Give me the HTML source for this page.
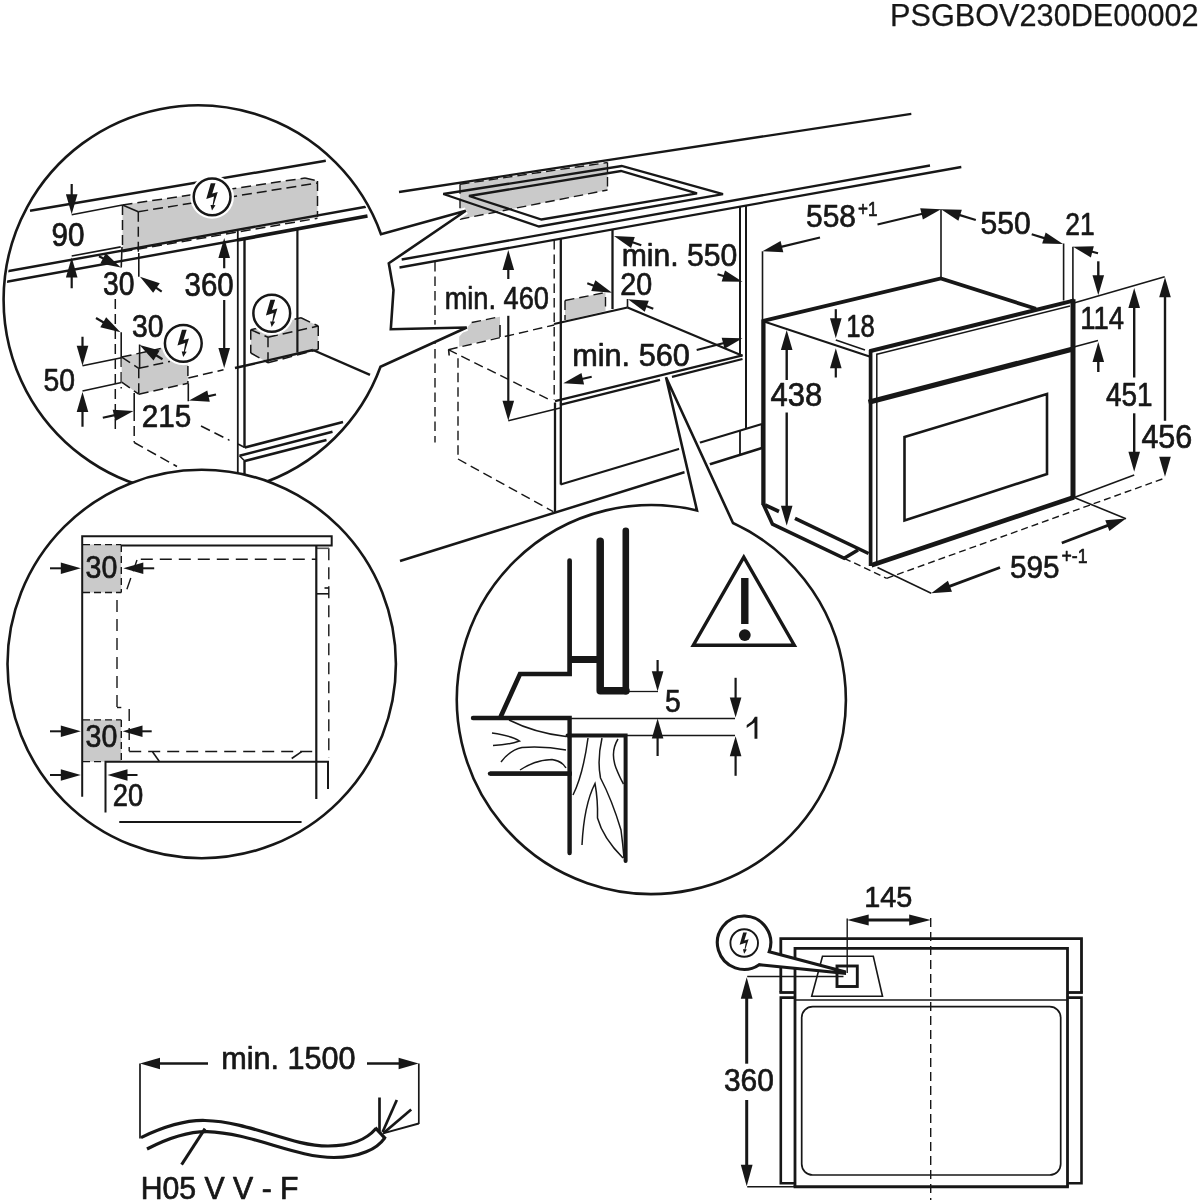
<!DOCTYPE html>
<html><head><meta charset="utf-8"><title>PSGBOV230DE00002</title>
<style>html,body{margin:0;padding:0;background:#fff}svg{display:block;filter:grayscale(1)}text{font-family:"Liberation Sans",sans-serif;fill:#171717;stroke:#171717;stroke-width:0.7px;stroke-linejoin:round}</style></head>
<body>
<svg width="1200" height="1200" viewBox="0 0 1200 1200">
<rect width="1200" height="1200" fill="#fff"/>
<g>
<g id="main">
<polygon points="460,184.2 607.5,162.5 607.5,190 460,219.2" fill="#c9cacc" stroke="none"/>
<line x1="399" y1="192" x2="911.3" y2="113.8" stroke="#171717" stroke-width="2.3"/>
<polygon points="443.3,194 621.7,166 723,194.2 539,226.5" fill="none" stroke="#171717" stroke-width="2.3"/>
<polygon points="469,196 621,171 697,193.3 541.5,219.5" fill="none" stroke="#171717" stroke-width="2.3"/>
<line x1="460" y1="184.2" x2="460" y2="219.2" stroke="#171717" stroke-width="1.4" stroke-dasharray="9.5 5"/>
<line x1="460" y1="219.2" x2="607.5" y2="190" stroke="#171717" stroke-width="1.4" stroke-dasharray="9.5 5"/>
<line x1="607.5" y1="162.5" x2="607.5" y2="190" stroke="#171717" stroke-width="1.4" stroke-dasharray="9.5 5"/>
<line x1="460" y1="184.2" x2="607.5" y2="162.5" stroke="#171717" stroke-width="1.4" stroke-dasharray="9.5 5"/>
<line x1="401.7" y1="259.5" x2="930" y2="165.5" stroke="#171717" stroke-width="2.3"/>
<line x1="399.5" y1="267.5" x2="961.3" y2="167" stroke="#171717" stroke-width="2.3"/>
<line x1="435" y1="262" x2="435" y2="442.5" stroke="#171717" stroke-width="1.4" stroke-dasharray="9.5 5"/>
<line x1="554.2" y1="240" x2="554.2" y2="400" stroke="#171717" stroke-width="1.4" stroke-dasharray="9.5 5"/>
<line x1="560.8" y1="238.6" x2="560.8" y2="484.5" stroke="#171717" stroke-width="2.3"/>
<line x1="612.5" y1="229.4" x2="612.5" y2="309" stroke="#171717" stroke-width="2.3"/>
<line x1="740" y1="206.6" x2="740" y2="355" stroke="#171717" stroke-width="2"/>
<line x1="746" y1="205.5" x2="746" y2="428" stroke="#171717" stroke-width="2"/>
<polygon points="471.7,322.5 500,316.7 500,336.7 459.2,346.7 459.2,336.7 466.7,328" fill="#c9cacc" stroke="none"/>
<line x1="471.7" y1="322.5" x2="500" y2="316.7" stroke="#171717" stroke-width="1.4" stroke-dasharray="9.5 5"/>
<line x1="500" y1="325" x2="500" y2="337" stroke="#171717" stroke-width="1.6"/>
<line x1="448.3" y1="349.7" x2="554.2" y2="325" stroke="#171717" stroke-width="1.4" stroke-dasharray="9.5 5"/>
<line x1="448.3" y1="349.7" x2="550" y2="400" stroke="#171717" stroke-width="1.4" stroke-dasharray="9.5 5"/>
<line x1="448.6" y1="349.7" x2="449.2" y2="355.5" stroke="#171717" stroke-width="1.6"/>
<line x1="458" y1="358.3" x2="458" y2="459" stroke="#171717" stroke-width="1.4" stroke-dasharray="9.5 5"/>
<line x1="458" y1="459" x2="553.3" y2="511.7" stroke="#171717" stroke-width="1.4" stroke-dasharray="9.5 5"/>
<polygon points="565,300.5 605.5,292.5 605.5,311 565,320.5" fill="#c9cacc" stroke="none"/>
<line x1="565" y1="300.5" x2="605.5" y2="292.5" stroke="#171717" stroke-width="1.4" stroke-dasharray="9.5 5"/>
<line x1="565" y1="300.5" x2="565" y2="320" stroke="#171717" stroke-width="1.4" stroke-dasharray="9.5 5"/>
<line x1="605.5" y1="297" x2="605.5" y2="311" stroke="#171717" stroke-width="1.4" stroke-dasharray="9.5 5"/>
<line x1="554" y1="324" x2="627.5" y2="307.5" stroke="#171717" stroke-width="2.3"/>
<line x1="627.5" y1="307.5" x2="742.5" y2="355.8" stroke="#171717" stroke-width="2.3"/>
<line x1="627.5" y1="299" x2="627.5" y2="307.5" stroke="#171717" stroke-width="1.6"/>
<line x1="555" y1="401.2" x2="742.5" y2="355.3" stroke="#171717" stroke-width="2.3"/>
<line x1="560" y1="404.8" x2="660" y2="379.8" stroke="#171717" stroke-width="2.3"/>
<line x1="672" y1="376.8" x2="742.5" y2="359" stroke="#171717" stroke-width="2.3"/>
<polygon points="508.3,250 514.1,270 502.5,270" fill="#171717" stroke="none"/>
<line x1="508.3" y1="279" x2="508.3" y2="268" stroke="#171717" stroke-width="2.2"/>
<polygon points="508.3,420.8 502.5,400.8 514.1,400.8" fill="#171717" stroke="none"/>
<line x1="508.3" y1="315.8" x2="508.3" y2="402.8" stroke="#171717" stroke-width="2.2"/>
<text x="444.7" y="309.3" font-size="31.24" textLength="104.21" lengthAdjust="spacingAndGlyphs">min. 460</text>
<line x1="508.3" y1="420.8" x2="560" y2="408" stroke="#171717" stroke-width="1.6"/>
<text x="621.7" y="266.4" font-size="31.24" textLength="115.61" lengthAdjust="spacingAndGlyphs">min. 550</text>
<polygon points="614,236 634.8,236.96 631.06,247.94" fill="#171717" stroke="none"/>
<line x1="641.3" y1="245.3" x2="631.04" y2="241.8" stroke="#171717" stroke-width="2.2"/>
<polygon points="742.5,281.7 721.68,281.51 725.01,270.4" fill="#171717" stroke="none"/>
<line x1="717.5" y1="274.2" x2="725.26" y2="276.53" stroke="#171717" stroke-width="2.2"/>
<text x="620.2" y="295" font-size="30.78" textLength="31.91" lengthAdjust="spacingAndGlyphs">20</text>
<polygon points="612,292.7 591.24,291.01 595.37,280.17" fill="#171717" stroke="none"/>
<line x1="587.3" y1="283.3" x2="595.18" y2="286.3" stroke="#171717" stroke-width="2.2"/>
<polygon points="628,299.3 648.77,300.83 644.73,311.7" fill="#171717" stroke="none"/>
<line x1="653.3" y1="308.7" x2="644.87" y2="305.57" stroke="#171717" stroke-width="2.2"/>
<text x="572.2" y="365.9" font-size="31.24" textLength="117.61" lengthAdjust="spacingAndGlyphs">min. 560</text>
<polygon points="563.3,383.3 581.47,373.12 584.09,384.42" fill="#171717" stroke="none"/>
<line x1="591.7" y1="376.7" x2="580.83" y2="379.23" stroke="#171717" stroke-width="2.2"/>
<polygon points="742.5,338.3 724.56,348.87 721.69,337.63" fill="#171717" stroke="none"/>
<line x1="696.7" y1="350" x2="725.06" y2="342.76" stroke="#171717" stroke-width="2.2"/>
<line x1="555" y1="402.5" x2="555" y2="512.5" stroke="#171717" stroke-width="2.3"/>
<line x1="560.5" y1="484.5" x2="762" y2="424" stroke="#171717" stroke-width="2.3"/>
<line x1="400" y1="561" x2="762" y2="448" stroke="#171717" stroke-width="2.5"/>
<line x1="740" y1="431" x2="740" y2="454.5" stroke="#171717" stroke-width="1.8"/>
<line x1="761.7" y1="424.5" x2="761.7" y2="448" stroke="#171717" stroke-width="1.8"/>
</g>
<g id="oven">
<line x1="762.5" y1="251.3" x2="762.5" y2="320" stroke="#171717" stroke-width="1.6"/>
<line x1="941" y1="209.3" x2="941" y2="278.5" stroke="#171717" stroke-width="1.6"/>
<line x1="1063.6" y1="243.5" x2="1063.6" y2="300.5" stroke="#171717" stroke-width="1.6"/>
<line x1="1072.9" y1="246.7" x2="1072.9" y2="302" stroke="#171717" stroke-width="1.6"/>
<polyline points="763.3,320.8 940.8,278.5 1036,308.8" fill="none" stroke="#171717" stroke-width="3.8"/>
<line x1="764" y1="321.5" x2="869.5" y2="356.5" stroke="#171717" stroke-width="2"/>
<line x1="763.4" y1="319.5" x2="763.4" y2="505" stroke="#171717" stroke-width="4.3"/>
<line x1="869.5" y1="351.2" x2="1074.5" y2="300.4" stroke="#171717" stroke-width="4"/>
<line x1="877" y1="354.3" x2="1070" y2="306" stroke="#171717" stroke-width="1.6"/>
<line x1="870.6" y1="350" x2="870.6" y2="566" stroke="#171717" stroke-width="3.7"/>
<line x1="876.8" y1="353.5" x2="876.8" y2="563.5" stroke="#171717" stroke-width="1.5"/>
<line x1="868.5" y1="402.2" x2="1073" y2="349" stroke="#171717" stroke-width="5.2"/>
<line x1="1073" y1="299.2" x2="1073" y2="498.5" stroke="#171717" stroke-width="5"/>
<line x1="871.5" y1="565.3" x2="1074" y2="497.2" stroke="#171717" stroke-width="4.6"/>
<polygon points="904.5,437 1047,394 1047,474 904.5,520.5" fill="none" stroke="#171717" stroke-width="2.6"/>
<polyline points="763.3,504.2 772.5,524.2 844.2,558.3 858,550" fill="none" stroke="#171717" stroke-width="3.6"/>
<line x1="765" y1="505" x2="779" y2="511.5" stroke="#171717" stroke-width="3.6"/>
<line x1="795" y1="518.3" x2="868.6" y2="553.5" stroke="#171717" stroke-width="3.6"/>
<text x="806" y="226.8" font-size="31.14" textLength="50.01" lengthAdjust="spacingAndGlyphs">558</text>
<text x="858" y="216.3" font-size="20.14" textLength="19.5" lengthAdjust="spacingAndGlyphs">+1</text>
<polygon points="762.5,251.3 780.59,240.99 783.3,252.27" fill="#171717" stroke="none"/>
<line x1="820" y1="237.5" x2="780" y2="247.1" stroke="#171717" stroke-width="2.2"/>
<polygon points="941,209.3 922.9,219.6 920.2,208.32" fill="#171717" stroke="none"/>
<line x1="877.5" y1="224.5" x2="923.49" y2="213.49" stroke="#171717" stroke-width="2.2"/>
<text x="980.5" y="233.8" font-size="31.85" textLength="50.11" lengthAdjust="spacingAndGlyphs">550</text>
<polygon points="941,209.3 961.82,209.63 958.41,220.72" fill="#171717" stroke="none"/>
<line x1="975.8" y1="220" x2="958.21" y2="214.59" stroke="#171717" stroke-width="2.2"/>
<polygon points="1063,244 1042.18,243.56 1045.65,232.49" fill="#171717" stroke="none"/>
<line x1="1031.7" y1="234.2" x2="1045.82" y2="238.62" stroke="#171717" stroke-width="2.2"/>
<text x="1065.2" y="235.4" font-size="31.7" textLength="29.41" lengthAdjust="spacingAndGlyphs">21</text>
<polygon points="1073,246.7 1093.82,246.2 1090.86,257.41" fill="#171717" stroke="none"/>
<line x1="1098" y1="253.3" x2="1090.4" y2="251.29" stroke="#171717" stroke-width="2.2"/>
<polygon points="835.8,338.3 830,318.3 841.6,318.3" fill="#171717" stroke="none"/>
<line x1="835.8" y1="309.2" x2="835.8" y2="320.3" stroke="#171717" stroke-width="2.2"/>
<polygon points="835.8,348.3 841.6,368.3 830,368.3" fill="#171717" stroke="none"/>
<line x1="835.8" y1="377.5" x2="835.8" y2="366.3" stroke="#171717" stroke-width="2.2"/>
<line x1="835.8" y1="340" x2="865" y2="350" stroke="#171717" stroke-width="1.6"/>
<text x="846.2" y="337.1" font-size="31.7" textLength="28.61" lengthAdjust="spacingAndGlyphs">18</text>
<polygon points="786.7,330 792.5,350 780.9,350" fill="#171717" stroke="none"/>
<line x1="786.7" y1="380" x2="786.7" y2="348" stroke="#171717" stroke-width="2.4"/>
<text x="770.5" y="405.9" font-size="33.68" textLength="51.81" lengthAdjust="spacingAndGlyphs">438</text>
<polygon points="786.7,525.8 780.9,505.8 792.5,505.8" fill="#171717" stroke="none"/>
<line x1="786.7" y1="412.5" x2="786.7" y2="507.8" stroke="#171717" stroke-width="2.4"/>
<line x1="1074.7" y1="302.7" x2="1164.7" y2="276.7" stroke="#171717" stroke-width="1.6"/>
<line x1="1074.7" y1="346.7" x2="1098" y2="340.5" stroke="#171717" stroke-width="1.6"/>
<polygon points="1098.3,295.3 1092.5,275.3 1104.1,275.3" fill="#171717" stroke="none"/>
<line x1="1098.3" y1="261.3" x2="1098.3" y2="277.3" stroke="#171717" stroke-width="2.4"/>
<polygon points="1098.3,342 1104.1,362 1092.5,362" fill="#171717" stroke="none"/>
<line x1="1098.3" y1="372" x2="1098.3" y2="360" stroke="#171717" stroke-width="2.4"/>
<text x="1080.2" y="328.9" font-size="31.39" textLength="43.71" lengthAdjust="spacingAndGlyphs">114</text>
<polygon points="1134.2,288 1140,308 1128.4,308" fill="#171717" stroke="none"/>
<line x1="1134.2" y1="377.5" x2="1134.2" y2="306" stroke="#171717" stroke-width="2.4"/>
<text x="1106" y="406.2" font-size="32.92" textLength="46.61" lengthAdjust="spacingAndGlyphs">451</text>
<polygon points="1134.2,471.7 1128.4,451.7 1140,451.7" fill="#171717" stroke="none"/>
<line x1="1134.2" y1="413.3" x2="1134.2" y2="453.7" stroke="#171717" stroke-width="2.4"/>
<polygon points="1165,277.3 1170.8,297.3 1159.2,297.3" fill="#171717" stroke="none"/>
<line x1="1165" y1="420.8" x2="1165" y2="295.3" stroke="#171717" stroke-width="2.4"/>
<text x="1141.4" y="447.6" font-size="32.46" textLength="50.91" lengthAdjust="spacingAndGlyphs">456</text>
<polygon points="1165,476.7 1159.2,456.7 1170.8,456.7" fill="#171717" stroke="none"/>
<line x1="1074.2" y1="497.5" x2="1134.2" y2="475" stroke="#171717" stroke-width="1.6"/>
<line x1="844.2" y1="558.3" x2="886.7" y2="578.3" stroke="#171717" stroke-width="1.4" stroke-dasharray="7 4"/>
<line x1="886.7" y1="578.3" x2="1164.2" y2="478.3" stroke="#171717" stroke-width="1.4" stroke-dasharray="7 4"/>
<line x1="877.5" y1="567.5" x2="931.2" y2="593.2" stroke="#171717" stroke-width="1.6"/>
<line x1="1074.2" y1="497.5" x2="1126" y2="518.8" stroke="#171717" stroke-width="1.6"/>
<polygon points="931.2,593.2 947.91,580.77 951.97,591.63" fill="#171717" stroke="none"/>
<line x1="1000" y1="567.5" x2="948.06" y2="586.9" stroke="#171717" stroke-width="2.8"/>
<polygon points="1126,518.5 1109.38,531.05 1105.25,520.21" fill="#171717" stroke="none"/>
<line x1="1061.8" y1="543" x2="1109.18" y2="524.92" stroke="#171717" stroke-width="2.8"/>
<text x="1010" y="578.4" font-size="31.57" textLength="49.51" lengthAdjust="spacingAndGlyphs">595</text>
<text x="1061.5" y="563" font-size="20.43" textLength="26" lengthAdjust="spacingAndGlyphs">+-1</text>
</g>
<g id="c1">
<path d="M 430 341 L 466.7 327.5 L 430 328.3 M 430 220.5 L 465.8 210.8 L 430 235.2" fill="none" stroke="#fff" stroke-width="7"/>
<path d="M 381 234.21 A 194.4 194.4 0 1 0 380.5 366.77 L 466.7 327.5 L 390.8 329.2 L 393.5 290 L 388.8 263.3 L 465.8 210.8 Z" fill="#fff" stroke="#171717" stroke-width="2.6"/>
<clipPath id="cp1"><circle cx="198" cy="299.8" r="191.8"/></clipPath>
<g clip-path="url(#cp1)">
<polygon points="122.5,205 305,178 317.5,181 317.5,217.5 122.5,251.5" fill="#c9cacc" stroke="none"/>
<line x1="30" y1="210.8" x2="325.8" y2="160.8" stroke="#171717" stroke-width="2.5"/>
<line x1="7.5" y1="271.3" x2="366" y2="206.7" stroke="#171717" stroke-width="2.4"/>
<line x1="6.7" y1="281.7" x2="237.5" y2="240" stroke="#171717" stroke-width="2.4"/>
<line x1="237.5" y1="240" x2="367.5" y2="216" stroke="#171717" stroke-width="3.6"/>
<line x1="122.5" y1="205" x2="305" y2="178" stroke="#171717" stroke-width="1.5" stroke-dasharray="10 5"/>
<line x1="305" y1="178" x2="317.5" y2="181" stroke="#171717" stroke-width="1.5" stroke-dasharray="10 5"/>
<line x1="138.3" y1="211.7" x2="317.5" y2="183" stroke="#171717" stroke-width="1.5" stroke-dasharray="10 5"/>
<line x1="122.5" y1="205" x2="122.5" y2="251" stroke="#171717" stroke-width="1.5" stroke-dasharray="10 5"/>
<line x1="138.3" y1="211.7" x2="138.3" y2="253" stroke="#171717" stroke-width="1.5" stroke-dasharray="10 5"/>
<line x1="122.5" y1="205" x2="138.3" y2="211.7" stroke="#171717" stroke-width="1.6"/>
<line x1="317.5" y1="181" x2="317.5" y2="217" stroke="#171717" stroke-width="1.5" stroke-dasharray="10 5"/>
<line x1="122.5" y1="251.8" x2="317.5" y2="218.3" stroke="#171717" stroke-width="1.5" stroke-dasharray="10 5"/>
<polygon points="71.7,214.2 65.9,194.2 77.5,194.2" fill="#171717" stroke="none"/>
<line x1="71.7" y1="184" x2="71.7" y2="196.2" stroke="#171717" stroke-width="2.2"/>
<line x1="71.7" y1="214.7" x2="122.5" y2="205" stroke="#171717" stroke-width="1.6"/>
<polygon points="71.7,257.5 77.5,277.5 65.9,277.5" fill="#171717" stroke="none"/>
<line x1="71.7" y1="288.3" x2="71.7" y2="275.5" stroke="#171717" stroke-width="2.2"/>
<line x1="71.7" y1="256" x2="120.8" y2="246.9" stroke="#171717" stroke-width="1.6"/>
<text x="51.5" y="246" font-size="32.47" textLength="33.01" lengthAdjust="spacingAndGlyphs">90</text>
<line x1="138.8" y1="253" x2="138.8" y2="276.7" stroke="#171717" stroke-width="1.6"/>
<line x1="122" y1="247" x2="121.2" y2="267.5" stroke="#171717" stroke-width="1.6"/>
<polygon points="120.8,267.5 100.37,263.45 105.71,253.15" fill="#171717" stroke="none"/>
<line x1="99" y1="256.2" x2="104.82" y2="259.22" stroke="#171717" stroke-width="2.2"/>
<polygon points="140,276.7 159.75,283.3 153.15,292.84" fill="#171717" stroke="none"/>
<line x1="161.7" y1="291.7" x2="154.81" y2="286.94" stroke="#171717" stroke-width="2.2"/>
<text x="103" y="294.5" font-size="32.47" textLength="31.51" lengthAdjust="spacingAndGlyphs">30</text>
<polygon points="224.2,238 230,258 218.4,258" fill="#171717" stroke="none"/>
<line x1="224.2" y1="268.3" x2="224.2" y2="256" stroke="#171717" stroke-width="2.2"/>
<text x="184.5" y="295.5" font-size="32.47" textLength="49.21" lengthAdjust="spacingAndGlyphs">360</text>
<polygon points="224.2,368 218.4,348 230,348" fill="#171717" stroke="none"/>
<line x1="224.2" y1="300" x2="224.2" y2="350" stroke="#171717" stroke-width="2.2"/>
<line x1="237.8" y1="231" x2="237.8" y2="500" stroke="#171717" stroke-width="1.8"/>
<line x1="244.5" y1="238.5" x2="244.5" y2="447.5" stroke="#171717" stroke-width="2.4"/>
<line x1="244.5" y1="461" x2="244.5" y2="500" stroke="#171717" stroke-width="2.4"/>
<line x1="115.3" y1="299" x2="115.3" y2="433" stroke="#171717" stroke-width="1.5" stroke-dasharray="10 5"/>
<line x1="121.2" y1="332.3" x2="121.2" y2="357" stroke="#171717" stroke-width="1.6"/>
<line x1="121.2" y1="357" x2="121.2" y2="388.5" stroke="#171717" stroke-width="1.5" stroke-dasharray="10 5"/>
<polygon points="120.5,332.3 100.3,327.23 106.15,317.21" fill="#171717" stroke="none"/>
<line x1="96" y1="318" x2="104.95" y2="323.23" stroke="#171717" stroke-width="2.2"/>
<text x="132" y="337.3" font-size="31.46" textLength="31.51" lengthAdjust="spacingAndGlyphs">30</text>
<polygon points="121.7,357.1 187.9,342.6 187.9,383.3 138.75,394.2 121.7,382.1" fill="#c9cacc" stroke="none"/>
<line x1="121.7" y1="357.1" x2="162" y2="348.2" stroke="#171717" stroke-width="1.5" stroke-dasharray="10 5"/>
<line x1="121.7" y1="357.1" x2="138.75" y2="368.3" stroke="#171717" stroke-width="1.5" stroke-dasharray="10 5"/>
<line x1="138.75" y1="368.3" x2="170" y2="361.4" stroke="#171717" stroke-width="1.5" stroke-dasharray="10 5"/>
<line x1="138.75" y1="368.3" x2="138.75" y2="394.2" stroke="#171717" stroke-width="1.5" stroke-dasharray="10 5"/>
<line x1="138.75" y1="394.2" x2="187.9" y2="383.3" stroke="#171717" stroke-width="1.5" stroke-dasharray="10 5"/>
<line x1="187.9" y1="366" x2="187.9" y2="383.3" stroke="#171717" stroke-width="1.5" stroke-dasharray="10 5"/>
<line x1="121.7" y1="382.1" x2="138.75" y2="394.2" stroke="#171717" stroke-width="1.5" stroke-dasharray="10 5"/>
<line x1="139.6" y1="344.6" x2="139.6" y2="368.3" stroke="#171717" stroke-width="1.6"/>
<polygon points="139.6,345 159.65,350.61 153.54,360.47" fill="#171717" stroke="none"/>
<line x1="162.5" y1="359.2" x2="154.9" y2="354.49" stroke="#171717" stroke-width="2.2"/>
<line x1="82.5" y1="365.7" x2="121.5" y2="357.8" stroke="#171717" stroke-width="1.6"/>
<line x1="82.5" y1="391" x2="121.5" y2="382.5" stroke="#171717" stroke-width="1.6"/>
<polygon points="82.5,365.7 76.7,345.7 88.3,345.7" fill="#171717" stroke="none"/>
<line x1="82.5" y1="336.8" x2="82.5" y2="347.7" stroke="#171717" stroke-width="2.2"/>
<polygon points="82.5,392 88.3,412 76.7,412" fill="#171717" stroke="none"/>
<line x1="82.5" y1="426.8" x2="82.5" y2="410" stroke="#171717" stroke-width="2.2"/>
<text x="43.5" y="391.3" font-size="31.46" textLength="31.51" lengthAdjust="spacingAndGlyphs">50</text>
<line x1="134.2" y1="393" x2="134.2" y2="411" stroke="#171717" stroke-width="1.6"/>
<line x1="134.2" y1="411" x2="134.2" y2="442.5" stroke="#171717" stroke-width="1.5" stroke-dasharray="10 5"/>
<line x1="134.2" y1="442.5" x2="177" y2="466.5" stroke="#171717" stroke-width="1.5" stroke-dasharray="10 5"/>
<polygon points="133.5,411 115.23,420.99 112.72,409.66" fill="#171717" stroke="none"/>
<line x1="102.8" y1="417.8" x2="115.93" y2="414.89" stroke="#171717" stroke-width="2.2"/>
<line x1="188.3" y1="383.3" x2="188.3" y2="401.3" stroke="#171717" stroke-width="1.6"/>
<polygon points="189,400.5 207.27,390.5 209.78,401.82" fill="#171717" stroke="none"/>
<line x1="216" y1="394.5" x2="206.57" y2="396.6" stroke="#171717" stroke-width="2.2"/>
<text x="141.8" y="426.5" font-size="31.31" textLength="49.51" lengthAdjust="spacingAndGlyphs">215</text>
<line x1="201" y1="426" x2="229.5" y2="440.3" stroke="#171717" stroke-width="1.5" stroke-dasharray="10 5"/>
<line x1="188.3" y1="378" x2="223.5" y2="369.8" stroke="#171717" stroke-width="1.5" stroke-dasharray="10 5"/>
<polygon points="250.75,329.75 301,317.75 318.25,326 318.25,349.5 268,362.75 250.75,353" fill="#c9cacc" stroke="none"/>
<line x1="250.75" y1="329.75" x2="301" y2="317.75" stroke="#171717" stroke-width="1.5" stroke-dasharray="10 5"/>
<line x1="301" y1="317.75" x2="318.25" y2="326" stroke="#171717" stroke-width="1.5" stroke-dasharray="10 5"/>
<line x1="268" y1="337.25" x2="318.25" y2="326" stroke="#171717" stroke-width="1.5" stroke-dasharray="10 5"/>
<line x1="250.75" y1="329.75" x2="268" y2="337.25" stroke="#171717" stroke-width="1.5" stroke-dasharray="10 5"/>
<line x1="250.75" y1="329.75" x2="250.75" y2="353" stroke="#171717" stroke-width="1.5" stroke-dasharray="10 5"/>
<line x1="268" y1="337.25" x2="268" y2="362.75" stroke="#171717" stroke-width="1.5" stroke-dasharray="10 5"/>
<line x1="318.25" y1="326" x2="318.25" y2="349.5" stroke="#171717" stroke-width="1.5" stroke-dasharray="10 5"/>
<line x1="250.75" y1="353" x2="268" y2="362.75" stroke="#171717" stroke-width="1.5" stroke-dasharray="10 5"/>
<line x1="268" y1="362.75" x2="318.25" y2="349.5" stroke="#171717" stroke-width="1.5" stroke-dasharray="10 5"/>
<line x1="297.4" y1="229" x2="297.4" y2="352.5" stroke="#171717" stroke-width="2.2"/>
<line x1="235" y1="368" x2="313" y2="350" stroke="#171717" stroke-width="2.4"/>
<line x1="313" y1="350" x2="370" y2="374.8" stroke="#171717" stroke-width="2.4"/>
<line x1="244.75" y1="447.5" x2="343" y2="422" stroke="#171717" stroke-width="2.6"/>
<line x1="239.5" y1="455.75" x2="332.5" y2="431.75" stroke="#171717" stroke-width="2.6"/>
<line x1="244.75" y1="461" x2="326.5" y2="440" stroke="#171717" stroke-width="2.6"/>
<line x1="238" y1="444" x2="244.75" y2="447.5" stroke="#171717" stroke-width="1.5"/>
<line x1="239.5" y1="455.75" x2="244.75" y2="461" stroke="#171717" stroke-width="1.5"/>
<circle cx="212.1" cy="196.85" r="21.85" fill="#fff"/>
<circle cx="212.1" cy="196.85" r="18.4" fill="#fff" stroke="#171717" stroke-width="2.5"/>
<polygon points="210.75,183.25 215.5,183.25 212.25,193.5 217.75,192 213.65,205 215.5,205.25 212,210.5 210.5,205 212.6,205 214,196.5 206.25,199" fill="#171717" stroke="none"/>
<circle cx="183.3" cy="343.3" r="21.85" fill="#fff"/>
<circle cx="183.3" cy="343.3" r="18.4" fill="#fff" stroke="#171717" stroke-width="2.5"/>
<polygon points="181.95,329.7 186.7,329.7 183.45,339.95 188.95,338.45 184.85,351.45 186.7,351.7 183.2,356.95 181.7,351.45 183.8,351.45 185.2,342.95 177.45,345.45" fill="#171717" stroke="none"/>
<circle cx="271.75" cy="313.25" r="21.85" fill="#fff"/>
<circle cx="271.75" cy="313.25" r="18.4" fill="#fff" stroke="#171717" stroke-width="2.5"/>
<polygon points="270.4,299.65 275.15,299.65 271.9,309.9 277.4,308.4 273.3,321.4 275.15,321.65 271.65,326.9 270.15,321.4 272.25,321.4 273.65,312.9 265.9,315.4" fill="#171717" stroke="none"/>
</g>
</g>
<g id="c2">
<circle cx="201.7" cy="664" r="194.2" fill="#fff" stroke="#171717" stroke-width="2.6"/>
<rect x="82.2" y="544.5" width="39.1" height="48" fill="#c9cacc"/>
<rect x="82.2" y="719.7" width="39.1" height="42" fill="#c9cacc"/>
<polyline points="121.3,545.4 331.7,545.4 331.7,536.2 82.2,536.2 82.2,796.7" fill="none" stroke="#171717" stroke-width="2"/>
<line x1="83" y1="544.6" x2="121.3" y2="544.6" stroke="#171717" stroke-width="1.4" stroke-dasharray="7 4"/>
<line x1="121.3" y1="545" x2="121.3" y2="592.5" stroke="#171717" stroke-width="1.4" stroke-dasharray="7 4"/>
<line x1="83" y1="592.5" x2="121.3" y2="592.5" stroke="#171717" stroke-width="1.4" stroke-dasharray="7 4"/>
<line x1="83" y1="719.9" x2="121.3" y2="719.9" stroke="#171717" stroke-width="1.4" stroke-dasharray="7 4"/>
<line x1="121.3" y1="720" x2="121.3" y2="761" stroke="#171717" stroke-width="1.4" stroke-dasharray="7 4"/>
<line x1="83" y1="761.6" x2="105" y2="761.6" stroke="#171717" stroke-width="1.4" stroke-dasharray="7 4"/>
<text x="85.5" y="577.6" font-size="31.24" textLength="31.81" lengthAdjust="spacingAndGlyphs">30</text>
<polygon points="80.8,568.3 60.8,574.1 60.8,562.5" fill="#171717" stroke="none"/>
<line x1="50" y1="568.3" x2="62.8" y2="568.3" stroke="#171717" stroke-width="2"/>
<polygon points="123.3,568.3 143.3,562.5 143.3,574.1" fill="#171717" stroke="none"/>
<line x1="154.2" y1="568.3" x2="141.3" y2="568.3" stroke="#171717" stroke-width="2"/>
<line x1="140.8" y1="559.2" x2="316" y2="559.2" stroke="#171717" stroke-width="1.4" stroke-dasharray="12 7"/>
<line x1="137" y1="560" x2="125.8" y2="592.5" stroke="#171717" stroke-width="1.4" stroke-dasharray="12 7"/>
<line x1="117" y1="600" x2="117" y2="707.5" stroke="#171717" stroke-width="1.4" stroke-dasharray="12 7"/>
<line x1="117" y1="707.5" x2="121.3" y2="707.5" stroke="#171717" stroke-width="1.4"/>
<line x1="129.2" y1="709" x2="129.2" y2="751.3" stroke="#171717" stroke-width="1.4" stroke-dasharray="12 7"/>
<line x1="129.2" y1="751.5" x2="316.7" y2="751.5" stroke="#171717" stroke-width="1.4" stroke-dasharray="12 7"/>
<line x1="328.8" y1="548.3" x2="328.8" y2="757.5" stroke="#171717" stroke-width="1.4" stroke-dasharray="12 7"/>
<line x1="317" y1="548.3" x2="329" y2="548.3" stroke="#555" stroke-width="1.6"/>
<line x1="316.3" y1="593.8" x2="329" y2="593.8" stroke="#171717" stroke-width="1.6"/>
<line x1="324.5" y1="588" x2="328.8" y2="588" stroke="#171717" stroke-width="1.6"/>
<line x1="316.3" y1="545.4" x2="316.3" y2="799" stroke="#171717" stroke-width="2.2"/>
<text x="85.5" y="746.8" font-size="31.24" textLength="31.81" lengthAdjust="spacingAndGlyphs">30</text>
<polygon points="80.8,731.3 60.8,737.1 60.8,725.5" fill="#171717" stroke="none"/>
<line x1="50" y1="731.3" x2="62.8" y2="731.3" stroke="#171717" stroke-width="2"/>
<polygon points="122.5,731.3 142.5,725.5 142.5,737.1" fill="#171717" stroke="none"/>
<line x1="151.7" y1="731.3" x2="140.5" y2="731.3" stroke="#171717" stroke-width="2"/>
<polyline points="105.5,812.5 105.5,761.7 328,761.7 328,789" fill="none" stroke="#171717" stroke-width="2"/>
<line x1="152.5" y1="751.7" x2="159.2" y2="761.2" stroke="#171717" stroke-width="1.6"/>
<line x1="301.7" y1="751.7" x2="291.7" y2="758.5" stroke="#171717" stroke-width="1.6"/>
<polygon points="80.8,775 60.8,780.8 60.8,769.2" fill="#171717" stroke="none"/>
<line x1="50" y1="775" x2="62.8" y2="775" stroke="#171717" stroke-width="2"/>
<polygon points="107.5,775 127.5,769.2 127.5,780.8" fill="#171717" stroke="none"/>
<line x1="137.5" y1="775" x2="125.5" y2="775" stroke="#171717" stroke-width="2"/>
<text x="112.7" y="805.9" font-size="31.24" textLength="30.41" lengthAdjust="spacingAndGlyphs">20</text>
<line x1="120" y1="822" x2="300.8" y2="822" stroke="#171717" stroke-width="2" stroke-linecap="round"/>
</g>
<g id="c3">
<path d="M 733 522.99 L 666 377.3 L 697 510.45" fill="none" stroke="#fff" stroke-width="7"/>
<path d="M 733 522.99 A 194.5 194.5 0 1 1 697 510.45 L 666 377.3 Z" fill="#fff" stroke="#171717" stroke-width="2.6"/>
<polyline points="600.2,541.2 600.2,690.8 626,690.8" fill="none" stroke="#171717" stroke-width="7.5" stroke-linejoin="round" stroke-linecap="round"/>
<line x1="625.8" y1="530.8" x2="625.8" y2="691.2" stroke="#171717" stroke-width="6.6" stroke-linecap="round"/>
<polyline points="569.6,560.5 569.6,674 520,674 501,716" fill="none" stroke="#171717" stroke-width="4.7" stroke-linecap="round"/>
<line x1="568" y1="659.5" x2="600" y2="659.5" stroke="#171717" stroke-width="7"/>
<polyline points="473,718 569.6,718 569.6,853" fill="none" stroke="#171717" stroke-width="4.4" stroke-linecap="round"/>
<line x1="490" y1="773.6" x2="569.6" y2="773.6" stroke="#171717" stroke-width="4.4" stroke-linecap="round"/>
<line x1="490" y1="773.6" x2="571.8" y2="773.6" stroke="#171717" stroke-width="4.4"/>
<polyline points="567.5,735.6 625.6,735.6 625.6,861" fill="none" stroke="#171717" stroke-width="4" stroke-linecap="round"/>
<line x1="628" y1="691.5" x2="658" y2="691.5" stroke="#171717" stroke-width="1.3"/>
<line x1="569.6" y1="718.5" x2="735" y2="718.5" stroke="#171717" stroke-width="1.3"/>
<line x1="626" y1="735.5" x2="735" y2="735.5" stroke="#171717" stroke-width="1.3"/>
<polygon points="657.6,691.3 651.8,671.3 663.4,671.3" fill="#171717" stroke="none"/>
<line x1="657.6" y1="660" x2="657.6" y2="673.3" stroke="#171717" stroke-width="2.2"/>
<polygon points="657.6,718.6 663.4,738.6 651.8,738.6" fill="#171717" stroke="none"/>
<line x1="657.6" y1="756" x2="657.6" y2="736.6" stroke="#171717" stroke-width="2.2"/>
<polygon points="735.6,717.6 729.8,697.6 741.4,697.6" fill="#171717" stroke="none"/>
<line x1="735.6" y1="677.8" x2="735.6" y2="699.6" stroke="#171717" stroke-width="2.2"/>
<polygon points="735.6,736.2 741.4,756.2 729.8,756.2" fill="#171717" stroke="none"/>
<line x1="735.6" y1="775.8" x2="735.6" y2="754.2" stroke="#171717" stroke-width="2.2"/>
<text x="664.9" y="711.6" font-size="32.15" textLength="15.7" lengthAdjust="spacingAndGlyphs">5</text>
<polygon points="757.4,716.7 757.4,738.7 754.5,738.7 754.5,722.4 746.7,728 746.7,725.1 752,721.3 754.9,716.7" fill="#171717" stroke="none"/>
<polygon points="743.8,557.2 693.3,645.2 794.3,645.2" fill="none" stroke="#171717" stroke-width="3.4"/>
<line x1="744.8" y1="578" x2="744.8" y2="624" stroke="#171717" stroke-width="7.4"/>
<circle cx="744.8" cy="635.1" r="5.9" fill="#171717"/>
<path d="M509 720 Q 535 733 566 736.5" fill="none" stroke="#171717" stroke-width="1.5"/>
<path d="M492 733 Q 512 736 519.5 741 Q 508 745 493 745.5" fill="none" stroke="#171717" stroke-width="1.5"/>
<path d="M501 762 Q 510 750 522 747.5 Q 545 746 566 750" fill="none" stroke="#171717" stroke-width="1.5"/>
<path d="M520 770 Q 535 760 552 759.5 Q 562 761 566 768" fill="none" stroke="#171717" stroke-width="1.5"/>
<path d="M588 738 Q 583 775 573 795" fill="none" stroke="#171717" stroke-width="1.5"/>
<path d="M602 738 Q 597 760 600.5 778 Q 612 800 621 830 Q 623 845 624 858" fill="none" stroke="#171717" stroke-width="1.5"/>
<path d="M618 739 Q 610 752 616 768 Q 620 778 623.5 784" fill="none" stroke="#171717" stroke-width="1.5"/>
<path d="M582 845 Q 584 805 595 783.5 Q 598 800 597.5 818 Q 603 838 623 858" fill="none" stroke="#171717" stroke-width="1.5"/>
</g>
<g id="bottom">
<text x="890" y="25.8" font-size="30.73" textLength="308.6" lengthAdjust="spacingAndGlyphs" style="stroke-width:0.25px">PSGBOV230DE00002</text>
<text x="864.2" y="906.5" font-size="29.87" textLength="48.11" lengthAdjust="spacingAndGlyphs">145</text>
<line x1="930.7" y1="918" x2="930.7" y2="1200" stroke="#171717" stroke-width="1.4" stroke-dasharray="9 5"/>
<line x1="858" y1="920" x2="920" y2="920" stroke="#171717" stroke-width="3"/>
<polygon points="847.2,920 868.7,914.4 868.7,925.6" fill="#171717" stroke="none"/>
<polygon points="930.7,920 909.2,925.6 909.2,914.4" fill="#171717" stroke="none"/>
<polyline points="780.8,992.5 780.8,938.7 1081.5,938.7 1081.5,992.5" fill="none" stroke="#171717" stroke-width="2.8"/>
<line x1="779.4" y1="992.5" x2="795" y2="992.5" stroke="#171717" stroke-width="2.8"/>
<line x1="1067.5" y1="992.5" x2="1082.9" y2="992.5" stroke="#171717" stroke-width="2.8"/>
<polyline points="795,1186.7 795,948.3 1067.5,948.3 1067.5,1186.7" fill="none" stroke="#171717" stroke-width="2.8"/>
<line x1="793.6" y1="1186.7" x2="1068.9" y2="1186.7" stroke="#171717" stroke-width="3"/>
<line x1="795" y1="1000" x2="1067.5" y2="1000" stroke="#171717" stroke-width="1.4"/>
<polyline points="795,997.6 780.8,997.6 780.8,1183.3 795,1183.3" fill="none" stroke="#171717" stroke-width="2.6"/>
<polyline points="1067.5,997.6 1081.5,997.6 1081.5,1183.3 1067.5,1183.3" fill="none" stroke="#171717" stroke-width="2.6"/>
<rect x="801.7" y="1006.7" width="259" height="168.3" rx="11" ry="11" fill="none" stroke="#171717" stroke-width="1.7"/>
<polygon points="822.5,956.3 873.3,956.3 882.5,996.3 811.7,996.3" fill="none" stroke="#171717" stroke-width="1.6"/>
<rect x="837" y="966" width="20.3" height="20.5" fill="none" stroke="#171717" stroke-width="2.9"/>
<path d="M 769.2 951.7 L 844.5 971.8 L 844.5 973.4 L 759.2 964.7 A 26.7 26.7 0 1 1 769.2 951.7 Z" fill="#fff" stroke="#171717" stroke-width="3.1"/>
<circle cx="744.2" cy="943" r="13.8" fill="#fff" stroke="#171717" stroke-width="1.9"/>
<polygon points="743.15,932.39 746.85,932.39 744.32,940.39 748.61,939.22 745.41,949.36 746.85,949.55 744.12,953.65 742.95,949.36 744.59,949.36 745.68,942.73 739.64,944.68" fill="#171717" stroke="none"/>
<line x1="747.2" y1="976.5" x2="843.5" y2="976.5" stroke="#171717" stroke-width="1.4"/>
<line x1="747.2" y1="1186.7" x2="794" y2="1186.7" stroke="#171717" stroke-width="1.4"/>
<line x1="746.7" y1="990" x2="746.7" y2="1063.7" stroke="#171717" stroke-width="3"/>
<line x1="746.7" y1="1100" x2="746.7" y2="1172" stroke="#171717" stroke-width="3"/>
<polygon points="746.7,977.3 752.6,998.8 740.8,998.8" fill="#171717" stroke="none"/>
<polygon points="746.7,1186.3 740.8,1164.8 752.6,1164.8" fill="#171717" stroke="none"/>
<text x="723.9" y="1090.6" font-size="32.15" textLength="49.91" lengthAdjust="spacingAndGlyphs">360</text>
<line x1="847.2" y1="918.5" x2="847.2" y2="973" stroke="#171717" stroke-width="1.4"/>
<text x="221.2" y="1068.8" font-size="31.54" textLength="134.39" lengthAdjust="spacingAndGlyphs">min. 1500</text>
<polygon points="140,1063.5 160,1057.7 160,1069.3" fill="#171717" stroke="none"/>
<line x1="208" y1="1063.5" x2="158" y2="1063.5" stroke="#171717" stroke-width="2.6"/>
<polygon points="418.6,1063.5 398.6,1069.3 398.6,1057.7" fill="#171717" stroke="none"/>
<line x1="367" y1="1063.5" x2="400.6" y2="1063.5" stroke="#171717" stroke-width="2.6"/>
<line x1="140" y1="1063.5" x2="140" y2="1138.5" stroke="#171717" stroke-width="1.7"/>
<line x1="418.8" y1="1063.5" x2="418.8" y2="1124" stroke="#171717" stroke-width="1.7"/>
<path d="M141 1137.6 C 165 1126 185 1120 205 1120.5 C 250 1121.5 290 1146 328 1146 C 352 1146 366 1140 376 1128.5" fill="none" stroke="#171717" stroke-width="3.2"/>
<path d="M147 1149 C 170 1137 188 1131.5 207 1131.6 C 252 1133 295 1157.5 334 1157.5 C 360 1157.5 377 1149 384.8 1137.8" fill="none" stroke="#171717" stroke-width="3.2"/>
<line x1="375.2" y1="1127.6" x2="385.6" y2="1138.8" stroke="#171717" stroke-width="3.2"/>
<line x1="379.5" y1="1097.5" x2="379.5" y2="1131" stroke="#171717" stroke-width="2.7"/>
<line x1="382.6" y1="1132" x2="396.8" y2="1100" stroke="#171717" stroke-width="2.7"/>
<line x1="383.6" y1="1133" x2="411.2" y2="1109.5" stroke="#171717" stroke-width="2.7"/>
<line x1="383" y1="1133.4" x2="418.8" y2="1123.5" stroke="#171717" stroke-width="2"/>
<line x1="205" y1="1128.6" x2="181.6" y2="1164.6" stroke="#171717" stroke-width="3"/>
<text x="140.7" y="1199" font-size="30.91" textLength="157.89" lengthAdjust="spacingAndGlyphs">H05 V V - F</text>
</g>
</g>
</svg>
</body></html>
